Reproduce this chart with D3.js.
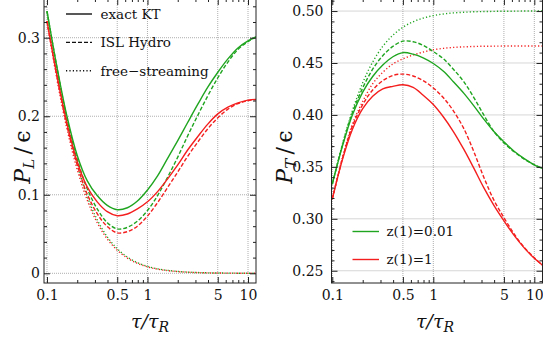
<!DOCTYPE html>
<html lang="en">
  <head>
    <meta charset="UTF-8" />
    <title>P_L and P_T over energy density</title>
    <style>
      body { margin: 0; background: white; }
      svg { display: block; font-family: "DejaVu Serif", serif; }
    </style>
  </head>
  <body>
    <svg width="543" height="340"></svg>

    <script src="https://d3js.org/d3.v7.min.js"></script>
    <script>
      // tau / tau_R sample points (about ten per decade)
      const tau = [0.1, 0.126, 0.158, 0.2, 0.251, 0.316, 0.398, 0.501, 0.631, 0.794, 1,
        1.26, 1.58, 2, 2.51, 3.16, 3.98, 5.01, 6.31, 7.94, 10, 12];

      // P_L / eps
      const plKT001 = [0.334, 0.262, 0.200, 0.150, 0.118, 0.099, 0.0865, 0.081, 0.0835, 0.092, 0.106,
        0.124, 0.146, 0.169, 0.192, 0.215, 0.237, 0.256, 0.273, 0.287, 0.296, 0.301];
      const plKT1 = [0.321, 0.251, 0.191, 0.142, 0.110, 0.091, 0.0785, 0.0733, 0.0755, 0.082, 0.091,
        0.104, 0.120, 0.138, 0.157, 0.174, 0.190, 0.203, 0.2115, 0.217, 0.2205, 0.2215];
      const plISL001 = [0.334, 0.261, 0.197, 0.145, 0.108, 0.082, 0.0645, 0.0565, 0.0585, 0.0665, 0.080,
        0.099, 0.122, 0.148, 0.175, 0.201, 0.226, 0.249, 0.269, 0.285, 0.295, 0.301];
      const plISL1 = [0.321, 0.250, 0.188, 0.138, 0.101, 0.076, 0.0595, 0.0515, 0.053, 0.060, 0.073,
        0.090, 0.109, 0.129, 0.149, 0.167, 0.184, 0.198, 0.209, 0.216, 0.2198, 0.2212];
      const plFS001 = [0.3333, 0.2563, 0.1922, 0.1383, 0.0983, 0.0681, 0.0464, 0.0312, 0.0206, 0.0135, 0.0088,
        0.0057, 0.0037, 0.0024, 0.0015, 0.00095, 0.0006, 0.00038, 0.00024, 0.00015, 0.0001, 0.00007];
      const plFS1 = [0.321, 0.246, 0.184, 0.132, 0.0935, 0.0645, 0.0438, 0.0294, 0.0194, 0.0127, 0.0082,
        0.0053, 0.0034, 0.0022, 0.0014, 0.0009, 0.00055, 0.00035, 0.00022, 0.00014, 0.00009, 0.00006];

      // P_T / eps
      const ptKT001 = [0.3334, 0.370, 0.400, 0.422, 0.437, 0.448, 0.456, 0.460, 0.4585, 0.455, 0.4495,
        0.442, 0.432, 0.421, 0.409, 0.396, 0.384, 0.374, 0.365, 0.358, 0.352, 0.3485];
      const ptKT1 = [0.319, 0.357, 0.386, 0.406, 0.418, 0.425, 0.4275, 0.429, 0.4265, 0.419, 0.410,
        0.398, 0.384, 0.367, 0.349, 0.330, 0.313, 0.298, 0.284, 0.272, 0.262, 0.2555];
      const ptISL001 = [0.3334, 0.371, 0.402, 0.426, 0.444, 0.457, 0.466, 0.471, 0.4705, 0.467, 0.461,
        0.454, 0.444, 0.432, 0.417, 0.400, 0.384, 0.373, 0.3645, 0.3575, 0.352, 0.3485];
      const ptISL1 = [0.319, 0.358, 0.389, 0.410, 0.424, 0.433, 0.438, 0.4393, 0.4375, 0.433, 0.426,
        0.4165, 0.404, 0.387, 0.365, 0.340, 0.318, 0.301, 0.2855, 0.2725, 0.2625, 0.2555];
      const ptFS001 = [0.3334, 0.3719, 0.4039, 0.4309, 0.4509, 0.466, 0.4768, 0.4844, 0.4897, 0.4932, 0.4956,
        0.4972, 0.4982, 0.4988, 0.4993, 0.4995, 0.4997, 0.4998, 0.4999, 0.5, 0.5, 0.5];
      const ptFS1 = [0.319, 0.359, 0.391, 0.413, 0.430, 0.441, 0.449, 0.454, 0.4577, 0.4605, 0.4627,
        0.4641, 0.465, 0.4655, 0.4659, 0.4661, 0.4662, 0.4663, 0.4663, 0.4663, 0.4663, 0.4663];

      const xMajor = [0.1, 0.5, 1, 5, 10];
      const xMajorLabels = ["0.1", "0.5", "1", "5", "10"];
      const xMinor = [0.2, 0.3, 0.4, 0.6, 0.7, 0.8, 0.9, 2, 3, 4, 6, 7, 8, 9];

      const yMajorL = [0, 0.1, 0.2, 0.3];
      const yMajorLLabels = ["0", "0.1", "0.2", "0.3"];
      const yMinorL = [0.02, 0.04, 0.06, 0.08, 0.12, 0.14, 0.16, 0.18, 0.22, 0.24, 0.26, 0.28, 0.32, 0.34];

      const yMajorR = [0.25, 0.3, 0.35, 0.4, 0.45, 0.5];
      const yMajorRLabels = ["0.25", "0.30", "0.35", "0.40", "0.45", "0.50"];
      const yMinorR = [0.24, 0.26, 0.27, 0.28, 0.29, 0.31, 0.32, 0.33, 0.34, 0.36, 0.37, 0.38, 0.39,
        0.41, 0.42, 0.43, 0.44, 0.46, 0.47, 0.48, 0.49, 0.51];

      const legendStyles = ["exact KT", "ISL Hydro", "free\u2212streaming"];
      const legendColors = ["z(1)=0.01", "z(1)=1"];

      const green = "#20a520";
      const red = "#f41e1e";
      const dash = { solid: null, dashed: "4,2", dotted: "1.2,2.2" };

      const svg = d3.select("svg");

      function panel(opts) {
        const x = d3.scaleLog().domain(opts.xDomain).range([opts.left, opts.right]);
        const y = d3.scaleLinear().domain(opts.yDomain).range([opts.bottom, opts.top]);
        const g = svg.append("g");

        // grid
        g.append("g")
          .selectAll("line")
          .data(xMajor)
          .join("line")
          .attr("x1", (d) => x(d)).attr("x2", (d) => x(d))
          .attr("y1", opts.top).attr("y2", opts.bottom)
          .attr("stroke", "#999").attr("stroke-width", 0.8).attr("stroke-dasharray", "1,1");
        g.append("g")
          .selectAll("line")
          .data(opts.yMajor)
          .join("line")
          .attr("x1", opts.left).attr("x2", opts.right)
          .attr("y1", (d) => y(d)).attr("y2", (d) => y(d))
          .attr("stroke", "#999").attr("stroke-width", 0.8).attr("stroke-dasharray", "1,1");

        // curves
        const clipId = "clip" + opts.id;
        svg.append("clipPath").attr("id", clipId)
          .append("rect")
          .attr("x", opts.left).attr("y", opts.top)
          .attr("width", opts.right - opts.left).attr("height", opts.bottom - opts.top);

        const line = d3.line()
          .x((d) => x(d[0]))
          .y((d) => y(d[1]))
          .curve(d3.curveCatmullRom.alpha(0.5));

        const curves = g.append("g").attr("clip-path", `url(#${clipId})`);
        opts.series.forEach((s) => {
          curves.append("path")
            .attr("d", line(tau.map((t, i) => [t, s.values[i]])))
            .attr("fill", "none")
            .attr("stroke", s.color)
            .attr("stroke-width", 1.4)
            .attr("stroke-dasharray", dash[s.style]);
        });

        // frame
        g.append("rect")
          .attr("x", opts.left).attr("y", opts.top)
          .attr("width", opts.right - opts.left).attr("height", opts.bottom - opts.top)
          .attr("fill", "none").attr("stroke", "#222").attr("stroke-width", 1);

        // ticks, pointing inward on all sides
        const addAxis = (axis, tx, ty, labels) => {
          const a = g.append("g").attr("transform", `translate(${tx},${ty})`).call(axis);
          a.select(".domain").remove();
          a.selectAll(".tick line").attr("stroke", "#222");
          a.selectAll("text")
            .attr("font-family", "DejaVu Serif")
            .attr("font-size", 14)
            .attr("fill", "#111");
          if (!labels) a.selectAll("text").remove();
          return a;
        };
        const fmt = (vals, labs) => (d) => labs[vals.indexOf(d)];

        addAxis(d3.axisBottom(x).tickValues(xMajor).tickFormat(fmt(xMajor, xMajorLabels))
          .tickSize(-6).tickPadding(7), 0, opts.bottom, true);
        addAxis(d3.axisBottom(x).tickValues(xMinor).tickSize(-3), 0, opts.bottom, false);
        addAxis(d3.axisTop(x).tickValues(xMajor).tickSize(-6), 0, opts.top, false);
        addAxis(d3.axisTop(x).tickValues(xMinor).tickSize(-3), 0, opts.top, false);

        addAxis(d3.axisLeft(y).tickValues(opts.yMajor).tickFormat(fmt(opts.yMajor, opts.yLabels))
          .tickSize(-6).tickPadding(opts.yPad), opts.left, 0, true);
        addAxis(d3.axisLeft(y).tickValues(opts.yMinor).tickSize(-3), opts.left, 0, false);
        addAxis(d3.axisRight(y).tickValues(opts.yMajor).tickSize(-6), opts.right, 0, false);
        addAxis(d3.axisRight(y).tickValues(opts.yMinor).tickSize(-3), opts.right, 0, false);

        // x label
        const xl = g.append("text")
          .attr("x", opts.xLabelX).attr("y", 328)
          .attr("text-anchor", "middle")
          .attr("font-size", 19).attr("font-style", "italic").attr("fill", "#111");
        xl.append("tspan").text("\u03c4/\u03c4");
        xl.append("tspan").attr("font-size", 14).attr("dy", 4).text("R");

        // y label
        const yl = g.append("text")
          .attr("transform", `translate(${opts.yLabelX},${opts.yLabelY}) rotate(-90)`)
          .attr("text-anchor", "middle")
          .attr("font-size", 22).attr("fill", "#111");
        yl.append("tspan").attr("font-style", "italic").text("P");
        yl.append("tspan").attr("font-style", "italic").attr("font-size", 15).attr("dy", 4).text(opts.sub);
        yl.append("tspan").attr("dy", -4).text("\u2009/\u2009\u03f5");

        return { x, y, g };
      }

      const left = panel({
        id: "L",
        left: 44, right: 256, top: -1, bottom: 283,
        xDomain: [0.0934, 12.01],
        yDomain: [-0.01235, 0.3493],
        yMajor: yMajorL, yLabels: yMajorLLabels, yMinor: yMinorL, yPad: 4,
        xLabelX: 150, yLabelX: 30, yLabelY: 157, sub: "L",
        series: [
          { values: plFS001, color: green, style: "dotted" },
          { values: plFS1, color: red, style: "dotted" },
          { values: plISL001, color: green, style: "dashed" },
          { values: plISL1, color: red, style: "dashed" },
          { values: plKT001, color: green, style: "solid" },
          { values: plKT1, color: red, style: "solid" },
        ],
      });

      const right = panel({
        id: "R",
        left: 331.5, right: 542.5, top: -1, bottom: 283,
        xDomain: [0.0982, 12.05],
        yDomain: [0.2382, 0.5116],
        yMajor: yMajorR, yLabels: yMajorRLabels, yMinor: yMinorR, yPad: 8,
        xLabelX: 435, yLabelX: 292, yLabelY: 157, sub: "T",
        series: [
          { values: ptFS001, color: green, style: "dotted" },
          { values: ptFS1, color: red, style: "dotted" },
          { values: ptISL001, color: green, style: "dashed" },
          { values: ptISL1, color: red, style: "dashed" },
          { values: ptKT001, color: green, style: "solid" },
          { values: ptKT1, color: red, style: "solid" },
        ],
      });

      // legend, line styles
      const styleKeys = ["solid", "dashed", "dotted"];
      const lg = left.g.append("g");
      legendStyles.forEach((name, i) => {
        const yy = 14 + i * 28.4;
        lg.append("line")
          .attr("x1", 66).attr("x2", 92).attr("y1", yy).attr("y2", yy)
          .attr("stroke", "#111").attr("stroke-width", 1.4)
          .attr("stroke-dasharray", dash[styleKeys[i]]);
        lg.append("text")
          .attr("x", 100.5).attr("y", yy).attr("dy", "0.35em")
          .attr("font-size", 13.5).attr("fill", "#111").text(name);
      });

      // legend, colours
      const cols = [green, red];
      const rg = right.g.append("g");
      legendColors.forEach((name, i) => {
        const yy = 231.5 + i * 28;
        rg.append("line")
          .attr("x1", 352.5).attr("x2", 379).attr("y1", yy).attr("y2", yy)
          .attr("stroke", cols[i]).attr("stroke-width", 1.4);
        rg.append("text")
          .attr("x", 386.5).attr("y", yy).attr("dy", "0.35em")
          .attr("font-size", 13.5).attr("fill", "#111").text(name);
      });
    </script>
  </body>
</html>
